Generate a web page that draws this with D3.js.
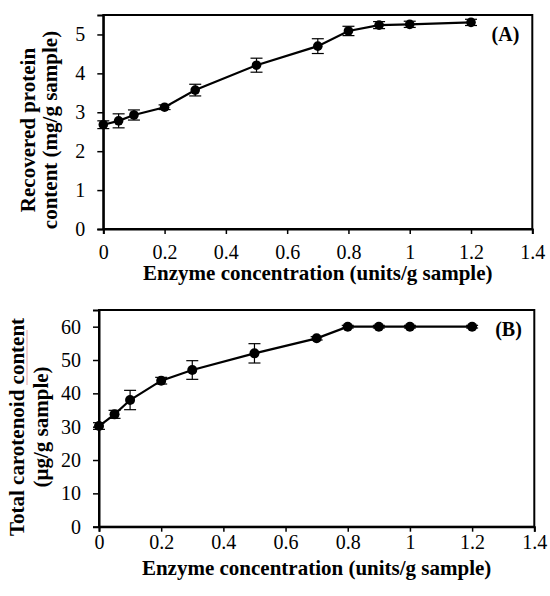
<!DOCTYPE html>
<html>
<head>
<meta charset="utf-8">
<script src="https://cdn.jsdelivr.net/npm/d3@7"></script>
<style>
  body { margin: 0; background: #fff; }
  svg { display: block; }
  text { font-family: "Liberation Serif", "Times New Roman", serif; }
</style>
</head>
<body>
<div id="chart"></div>
<script>
// enzyme concentration (units/g sample)
var enzyme = [0, 0.05, 0.1, 0.2, 0.3, 0.5, 0.7, 0.8, 0.9, 1.0, 1.2];

// (A) recovered protein, mg/g sample
var protein = [2.68, 2.78, 2.93, 3.13, 3.57, 4.21, 4.70, 5.09, 5.24, 5.26, 5.31];
var proteinErr = [0.10, 0.18, 0.13, 0.06, 0.15, 0.18, 0.19, 0.12, 0.09, 0.08, 0.08];

// (B) total carotenoid, ug/g sample
var carot = [30.2, 33.7, 38.0, 43.8, 47.0, 52.0, 56.5, 60.0, 60.0, 60.0, 60.0];
var carotErr = [1.0, 1.2, 2.9, 1.0, 2.8, 2.9, 0.5, 0.4, 0.4, 0.4, 0.4];

var xTicks = [0, 0.2, 0.4, 0.6, 0.8, 1.0, 1.2, 1.4];
var yTicksA = [0, 1, 2, 3, 4, 5];
var yTicksB = [0, 10, 20, 30, 40, 50, 60];

var svg = d3.select("#chart").append("svg")
  .attr("width", 550)
  .attr("height", 596);

function panel(opt) {
  var x = d3.scaleLinear().domain([0, 1.4]).range([opt.left, opt.right]);
  var y = d3.scaleLinear().domain([0, opt.ymax]).range([opt.bottom, opt.top]);
  var g = svg.append("g");

  // frame
  g.append("rect")
    .attr("x", opt.left).attr("y", opt.top)
    .attr("width", opt.right - opt.left).attr("height", opt.bottom - opt.top)
    .attr("fill", "none").attr("stroke", "#000").attr("stroke-width", 2);

  var xa = g.append("g")
    .attr("transform", "translate(0," + opt.bottom + ")")
    .call(d3.axisBottom(x).tickValues(xTicks).tickFormat(d3.format("~g")).tickSizeOuter(0).tickSize(5).tickPadding(opt.xPad));
  var ya = g.append("g")
    .attr("transform", "translate(" + opt.left + ",0)")
    .call(d3.axisLeft(y).tickValues(opt.yTicks).tickFormat(d3.format("~g")).tickSizeOuter(0).tickSize(6).tickPadding(12));
  [xa, ya].forEach(function (a) {
    a.select(".domain").attr("stroke-width", 2);
    a.selectAll(".tick line").attr("stroke-width", 1.5);
    a.selectAll("text").attr("font-size", 20).attr("fill", "#000")
      .attr("font-family", "Liberation Serif");
  });

  var pts = enzyme.map(function (e, i) {
    return { x: e, y: opt.vals[i], err: opt.errs[i] };
  });

  // error bars
  var eb = g.append("g").attr("stroke", "#000").attr("stroke-width", 1.2);
  pts.forEach(function (d) {
    var cx = x(d.x);
    eb.append("line").attr("x1", cx).attr("x2", cx)
      .attr("y1", y(d.y - d.err)).attr("y2", y(d.y + d.err));
    [d.y - d.err, d.y + d.err].forEach(function (v) {
      eb.append("line").attr("x1", cx - 6).attr("x2", cx + 6)
        .attr("y1", y(v)).attr("y2", y(v));
    });
  });

  g.append("path")
    .datum(pts)
    .attr("fill", "none").attr("stroke", "#000").attr("stroke-width", 2.2)
    .attr("d", d3.line().x(function (d) { return x(d.x); }).y(function (d) { return y(d.y); }));

  g.selectAll("circle.pt").data(pts).enter().append("circle")
    .attr("class", "pt")
    .attr("cx", function (d) { return x(d.x); })
    .attr("cy", function (d) { return y(d.y); })
    .attr("r", opt.r).attr("fill", "#000");

  g.append("text")
    .attr("x", opt.tagX).attr("y", opt.tagY)
    .attr("text-anchor", "middle").attr("font-weight", "bold").attr("font-size", 20)
    .text(opt.tag);

  g.append("text")
    .attr("x", (opt.left + opt.right) / 2).attr("y", opt.xTitleY)
    .attr("text-anchor", "middle").attr("font-weight", "bold").attr("font-size", 21)
    .text("Enzyme concentration (units/g sample)");

  var yt = g.append("text")
    .attr("transform", "translate(" + opt.yTitleX + "," + opt.yTitleY + ") rotate(-90)")
    .attr("text-anchor", "middle").attr("font-weight", "bold").attr("font-size", 21);
  opt.yTitle.forEach(function (line, i) {
    yt.append("tspan").attr("x", 0).attr("dy", i === 0 ? 0 : opt.yTitleGap).text(line);
  });
  return g;
}

panel({
  left: 103.3, right: 532.3, top: 15, bottom: 229, ymax: 5.5,
  yTicks: yTicksA, vals: protein, errs: proteinErr, r: 4.8, xPad: 11,
  tag: "(A)", tagX: 505.5, tagY: 41, xTitleY: 280,
  yTitle: ["Recovered protein", "content (mg/g sample)"], yTitleX: 35, yTitleY: 130, yTitleGap: 22
});

var gB = panel({
  left: 99, right: 534.3, top: 310, bottom: 526.7, ymax: 65,
  yTicks: yTicksB, vals: carot, errs: carotErr, r: 5, xPad: 3,
  tag: "(B)", tagX: 508.5, tagY: 336, xTitleY: 575,
  yTitle: ["Total carotenoid content", "(\u00b5g/g sample)"], yTitleX: 24, yTitleY: 427, yTitleGap: 24
});

// faint spell-check underline seen under "carotenoid" in the source figure
gB.append("line")
  .attr("x1", 27).attr("x2", 27).attr("y1", 330).attr("y2", 385)
  .attr("stroke", "#e8a0a0").attr("stroke-width", 1);
</script>
</body>
</html>
